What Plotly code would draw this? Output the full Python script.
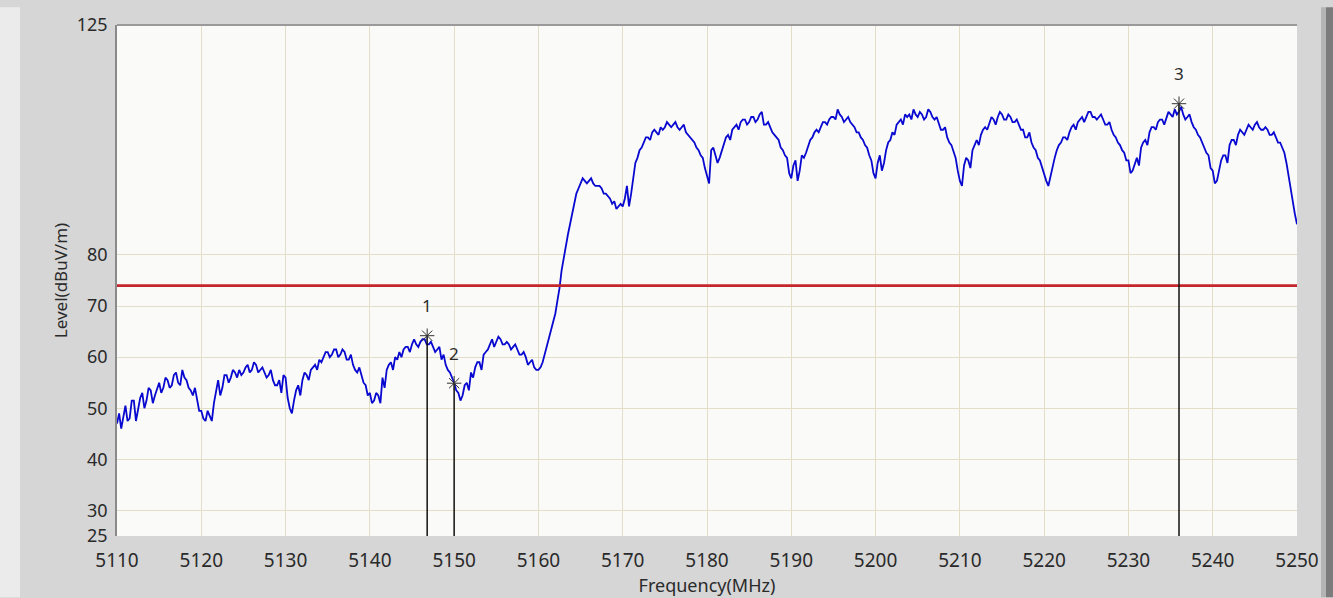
import plotly.graph_objects as go

# ---------------- data ----------------
freq_start = 5110.0
freq_step = 0.5
# readings at every 0.5 MHz (5110.0 ... 5250.0)
level = [
    47.0, 46.0, 50.5, 48.0, 51.5, 49.5, 53.0, 51.5, 53.5, 52.5,
    55.0, 54.0, 55.5, 54.5, 57.0, 54.5, 56.0, 54.0, 52.5, 51.5,
    49.5, 47.5, 48.5, 51.0, 55.5, 54.0, 56.5, 56.0, 57.0, 57.5,
    57.0, 58.5, 57.5, 58.5, 57.5, 57.0, 56.5, 55.5, 54.5, 53.0,
    56.0, 50.0, 51.5, 54.5, 55.5, 56.5, 57.5, 58.5, 59.5, 60.0,
    61.0, 60.5, 61.5, 60.5, 61.0, 59.5, 58.5, 57.0, 56.5, 54.5,
    53.0, 51.5, 52.5, 56.0, 57.5, 59.0, 60.0, 61.0, 61.5, 62.0,
    62.5, 62.5, 63.0, 63.5, 62.5, 62.0, 61.5, 59.5, 58.5, 57.0,
    55.0, 53.0, 52.5, 55.0, 57.0, 58.0, 59.0, 60.5, 61.5, 63.5,
    63.0, 63.5, 62.5, 62.5, 62.0, 61.5, 60.5, 60.0, 59.0, 58.0,
    57.5, 59.0, 62.0, 65.0, 68.5, 73.5, 79.5, 84.0, 88.0, 92.0,
    94.0, 94.5, 94.5, 94.0, 93.5, 93.0, 92.0, 91.0, 90.5, 89.5,
    89.5, 93.5, 92.0, 98.0, 100.5, 102.0, 103.0, 104.0, 104.0, 105.0,
    105.0, 105.5, 105.5, 105.0, 105.0, 104.0, 103.0, 102.0, 100.5, 99.0,
    95.5, 100.5, 99.5, 99.0, 101.5, 103.5, 104.5, 105.5, 106.0, 106.5,
    106.0, 107.0, 106.5, 108.0, 105.5, 105.0, 103.5, 102.5, 100.5, 99.0,
    95.0, 98.5, 96.5, 99.0, 101.5, 103.0, 104.5, 105.0, 106.0, 106.5,
    107.0, 108.5, 107.0, 106.5, 106.0, 105.0, 104.0, 102.5, 101.0, 98.5,
    95.0, 99.5, 98.0, 102.0, 104.0, 105.5, 106.5, 107.5, 107.5, 108.5,
    107.0, 107.5, 107.0, 108.0, 106.5, 105.5, 104.5, 103.0, 101.5, 99.0,
    94.5, 97.5, 98.5, 100.5, 102.5, 103.5, 105.0, 106.0, 106.5, 107.0,
    107.5, 106.5, 107.0, 106.0, 105.5, 104.5, 103.0, 102.0, 100.5, 98.5,
    96.0, 93.5, 97.0, 100.5, 102.0, 103.0, 104.0, 105.5, 106.0, 107.0,
    107.0, 108.0, 107.0, 107.0, 106.5, 105.5, 104.5, 103.0, 101.5, 100.0,
    98.5, 96.5, 99.0, 101.0, 102.5, 104.0, 105.0, 106.0, 106.5, 107.0,
    107.5, 108.5, 108.0, 107.5, 107.0, 106.0, 104.5, 103.0, 101.0, 99.5,
    96.5, 94.5, 98.5, 99.5, 101.5, 102.5, 103.5, 104.0, 104.5, 105.0,
    105.5, 105.0, 104.5, 104.5, 103.5, 103.0, 102.0, 100.0, 95.5, 90.0,
    86.0,
]
# readings in between (5110.25, 5110.75, ... 5249.75)
level_between = [
    49.0, 48.5, 47.5, 51.5, 47.5, 52.0, 50.0, 54.0, 51.0, 54.0,
    53.0, 56.0, 54.0, 56.5, 55.0, 57.5, 55.5, 53.5, 54.0, 49.5,
    48.0, 49.5, 47.5, 53.5, 52.5, 56.5, 55.0, 57.5, 56.0, 56.5,
    58.0, 57.0, 59.0, 57.0, 58.0, 56.0, 57.5, 54.5, 55.5, 56.5,
    52.0, 49.0, 53.5, 52.5, 57.0, 55.5, 58.0, 57.5, 59.0, 61.0,
    60.0, 61.5, 60.0, 61.5, 59.5, 60.5, 57.5, 58.0, 55.0, 52.5,
    51.0, 53.0, 51.0, 54.0, 58.5, 57.5, 59.5, 60.0, 62.0, 61.0,
    63.5, 62.0, 63.5, 62.5, 63.0, 61.0, 62.0, 60.5, 57.5, 56.0,
    53.5, 51.5, 54.5, 53.5, 56.0, 59.0, 57.5, 61.0, 62.5, 62.0,
    64.0, 62.5, 63.0, 61.5, 62.5, 60.5, 61.0, 58.5, 59.5, 57.5,
    58.0, 60.5, 63.5, 66.5, 71.0, 77.0, 82.0, 86.0, 90.0, 93.0,
    95.0, 94.0, 95.0, 93.5, 93.5, 92.0, 91.5, 90.0, 89.0, 90.0,
    91.0, 89.5, 95.5, 99.0, 101.0, 103.0, 102.5, 104.5, 103.5, 104.5,
    106.0, 105.0, 106.0, 104.5, 105.5, 103.5, 102.5, 101.0, 99.5, 97.0,
    94.0, 101.0, 98.0, 100.5, 103.0, 102.5, 105.0, 104.5, 106.5, 105.5,
    107.0, 106.0, 107.5, 105.5, 106.0, 104.0, 103.0, 101.0, 99.5, 96.0,
    97.5, 94.5, 99.5, 100.0, 102.5, 104.0, 104.0, 106.0, 105.5, 107.0,
    106.5, 107.5, 106.0, 107.0, 105.5, 104.0, 103.0, 101.5, 99.5, 96.0,
    98.0, 96.5, 100.5, 102.5, 103.5, 106.0, 105.5, 107.0, 106.5, 107.5,
    108.0, 106.5, 108.5, 107.0, 107.0, 104.5, 105.0, 102.0, 100.0, 96.5,
    93.5, 99.0, 97.0, 101.5, 101.5, 104.5, 104.5, 107.0, 105.5, 108.0,
    106.5, 107.5, 106.0, 106.5, 104.5, 103.0, 104.0, 101.0, 99.0, 97.0,
    94.5, 95.5, 99.0, 101.5, 103.0, 102.5, 105.0, 104.5, 106.5, 106.0,
    108.0, 107.0, 106.5, 107.5, 105.5, 106.0, 103.5, 102.0, 100.5, 98.5,
    96.0, 98.0, 97.5, 102.0, 101.5, 105.0, 104.5, 106.5, 105.5, 108.0,
    107.0, 107.5, 109.0, 106.5, 107.5, 105.0, 103.5, 102.0, 100.0, 97.0,
    94.0, 96.5, 99.5, 98.0, 102.5, 101.5, 104.5, 103.5, 105.5, 104.5,
    106.0, 104.5, 105.0, 103.5, 104.0, 102.0, 101.0, 98.0, 93.0, 88.0,
]

limit_level = 74.0
marker_freq = [5146.8, 5150.0, 5236.0]
marker_level = [64.2, 54.9, 109.6]
marker_labels = ["1", "2", "3"]

x_range = [5110, 5250]
y_range = [25, 125]
x_ticks = [5110, 5120, 5130, 5140, 5150, 5160, 5170, 5180, 5190, 5200,
           5210, 5220, 5230, 5240, 5250]
y_ticks = [25, 30, 40, 50, 60, 70, 80, 125]

# merge the two sets of readings in frequency order
freq, trace = [], []
for i, v in enumerate(level):
    freq.append(freq_start + i * freq_step)
    trace.append(v)
    if i < len(level_between):
        freq.append(freq_start + i * freq_step + freq_step / 2)
        trace.append(level_between[i])

# ---------------- figure ----------------
FONT = "Noto Sans"
TXT = "#2a2a2a"
fig = go.Figure()

fig.add_trace(go.Scatter(
    x=freq, y=trace, mode="lines",
    line=dict(color="#0808d0", width=1.8),
    showlegend=False,
))

fig.add_trace(go.Scatter(
    x=x_range, y=[limit_level, limit_level], mode="lines",
    line=dict(color="#c3262b", width=2.6),
    showlegend=False,
))

for mx, my in zip(marker_freq, marker_level):
    fig.add_trace(go.Scatter(
        x=[mx, mx], y=[y_range[0], my], mode="lines",
        line=dict(color="#111111", width=1.5),
        showlegend=False, hoverinfo="skip",
    ))

fig.add_trace(go.Scatter(
    x=marker_freq, y=marker_level, mode="markers",
    marker=dict(symbol="asterisk-open", size=12, color="#333333",
                line=dict(color="#333333", width=1)),
    showlegend=False,
))

for mx, my, lab in zip(marker_freq, marker_level, marker_labels):
    fig.add_annotation(x=mx, y=my, text=lab, showarrow=False,
                       yshift=30, font=dict(family=FONT, size=17, color=TXT))

# window frame decorations (paper coordinates relative to plot area)
L, R, T, B = 117, 1297, 18, 536
W, H = R - L, B - T
def px(p):
    return (p - L) / W
def py(q):
    return (B - q) / H

frame_shapes = [
    dict(type="rect", xref="paper", yref="paper", x0=px(0), x1=px(20),
         y0=py(598), y1=py(0), fillcolor="#ebebeb", line=dict(width=0), layer="below"),
    dict(type="rect", xref="paper", yref="paper", x0=px(1321), x1=px(1326),
         y0=py(598), y1=py(0), fillcolor="#b4b4b4", line=dict(width=0), layer="below"),
    dict(type="rect", xref="paper", yref="paper", x0=px(1326), x1=px(1333),
         y0=py(598), y1=py(0), fillcolor="#7c7c7c", line=dict(width=0), layer="below"),
    dict(type="line", xref="paper", yref="paper", x0=0, x1=1, y0=1, y1=1,
         line=dict(color="#9a9a9a", width=2)),
]

fig.update_layout(
    width=1333, height=598,
    margin=dict(l=L, r=1333 - R, t=T, b=598 - B),
    paper_bgcolor="#d6d6d6",
    plot_bgcolor="#fafaf8",
    font=dict(family=FONT, size=18, color=TXT),
    shapes=frame_shapes,
    xaxis=dict(
        range=x_range, tickvals=x_ticks, showgrid=True,
        gridcolor="#e2dec8", gridwidth=1.3, zeroline=False,
        showline=False, ticks="", ticklabelstandoff=11,
        tickfont=dict(family=FONT, size=19, color=TXT),
        title=dict(text="Frequency(MHz)", font=dict(family=FONT, size=18, color=TXT),
                   standoff=0),
    ),
    yaxis=dict(
        range=y_range, tickvals=y_ticks, showgrid=True,
        gridcolor="#e2dec8", gridwidth=1.3, zeroline=False,
        showline=True, linecolor="#8a8a8a", linewidth=1.5,
        ticks="", ticklabelstandoff=4,
        tickfont=dict(family=FONT, size=18, color=TXT),
        title=dict(text="Level(dBuV/m)", font=dict(family=FONT, size=17, color=TXT),
                   standoff=5),
    ),
)

fig.write_html("out.html")
